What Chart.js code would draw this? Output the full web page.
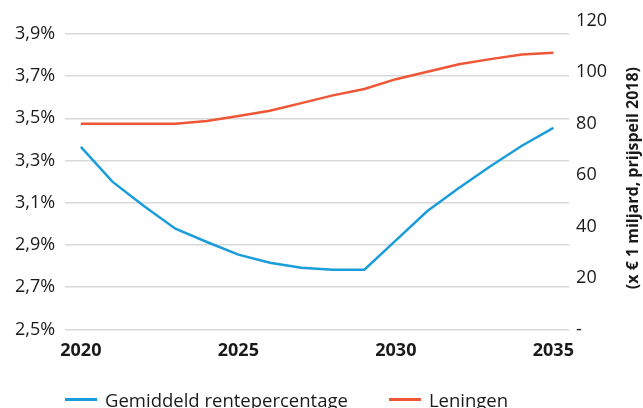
<!DOCTYPE html>
<html>
<head>
<meta charset="utf-8">
<script src="https://cdn.jsdelivr.net/npm/chart.js@4"></script>
<style>
  body { margin: 0; background: #fff; }
  #wrap { position: relative; width: 643px; height: 408px; }
  #legend {
    position: absolute; left: 65px; top: 387px;
    display: flex; align-items: center;
    font-family: "Open Sans", sans-serif; font-size: 18.5px; color: #1a1a1a;
  }
  .item { display: flex; align-items: center; margin-right: 41px; }
  .swatch { width: 32px; height: 3px; margin-right: 8px; }
</style>
</head>
<body>
<div id="wrap">
  <canvas id="renteChart"></canvas>
  <div id="legend"></div>
</div>
<script>
// chart data
const years = ['2020', '2021', '2022', '2023', '2024', '2025', '2026', '2027',
  '2028', '2029', '2030', '2031', '2032', '2033', '2034', '2035'];
const xTickLabels = ['2020', '2025', '2030', '2035'];
const rente = [3.365, 3.20, 3.085, 2.977, 2.914, 2.854, 2.816, 2.792,
  2.783, 2.783, 2.922, 3.061, 3.170, 3.273, 3.370, 3.455];
const leningen = [80, 80, 80, 80, 81, 83, 85, 88,
  91, 93.5, 97.3, 100.2, 103.1, 105.1, 106.9, 107.6];
const leftTicks = [2.5, 2.7, 2.9, 3.1, 3.3, 3.5, 3.7, 3.9];
const rightTicks = [0, 20, 40, 60, 80, 100, 120];
const seriesNames = ['Gemiddeld rentepercentage', 'Leningen'];
const seriesColors = ['#1b9ddb', '#ef5636'];
const rightAxisTitle = '(x € 1 miljard, prijspeil 2018)';

const textColor = '#1a1a1a';
const fontFamily = '"Open Sans", sans-serif';

// rotated title next to the right axis
const rightTitlePlugin = {
  id: 'rightTitle',
  afterDraw(chart) {
    const ctx = chart.ctx;
    const area = chart.chartArea;
    ctx.save();
    ctx.translate(633, (area.top + area.bottom) / 2 + 3);
    ctx.rotate(-Math.PI / 2);
    ctx.font = 'bold 16px ' + fontFamily;
    ctx.fillStyle = textColor;
    ctx.textAlign = 'center';
    ctx.textBaseline = 'middle';
    ctx.fillText(rightAxisTitle, 0, 0);
    ctx.restore();
  }
};

const ctx = document.getElementById('renteChart').getContext('2d');
new Chart(ctx, {
  type: 'line',
  data: {
    labels: years,
    datasets: [{
      label: seriesNames[0],
      data: rente,
      yAxisID: 'y',
      borderColor: seriesColors[0],
      backgroundColor: seriesColors[0],
      borderWidth: 2.5,
      pointRadius: 0,
      tension: 0
    }, {
      label: seriesNames[1],
      data: leningen,
      yAxisID: 'y2',
      borderColor: seriesColors[1],
      backgroundColor: seriesColors[1],
      borderWidth: 2.5,
      pointRadius: 0,
      tension: 0
    }]
  },
  options: {
    responsive: true,
    maintainAspectRatio: false,
    animation: false,
    layout: {
      padding: { left: 5, right: 29, top: 13, bottom: 35 }
    },
    plugins: {
      legend: { display: false },
      tooltip: { enabled: false }
    },
    scales: {
      x: {
        offset: true,
        grid: { display: false, drawTicks: false },
        border: { display: false },
        ticks: {
          autoSkip: false,
          maxRotation: 0,
          padding: 11,
          color: textColor,
          font: { family: fontFamily, size: 18, weight: 'bold' },
          callback: function (value, index) {
            const label = years[index];
            return xTickLabels.includes(label) ? label : '';
          }
        }
      },
      y: {
        position: 'left',
        min: 2.5,
        max: 3.962,
        afterBuildTicks: function (axis) {
          axis.ticks = leftTicks.map(v => ({ value: v }));
        },
        grid: { color: '#d9d9d9', lineWidth: 1.5, drawTicks: false },
        border: { display: false },
        ticks: {
          padding: 10,
          color: textColor,
          font: { family: fontFamily, size: 18 },
          callback: function (value) {
            return value.toFixed(1).replace('.', ',') + '%';
          }
        }
      },
      y2: {
        position: 'right',
        min: 0,
        max: 120,
        afterBuildTicks: function (axis) {
          axis.ticks = rightTicks.map(v => ({ value: v }));
        },
        grid: { display: false, drawTicks: false },
        border: { display: false },
        ticks: {
          padding: 7,
          color: textColor,
          font: { family: fontFamily, size: 18 },
          callback: function (value) {
            return value === 0 ? '-' : value;
          }
        }
      }
    }
  },
  plugins: [rightTitlePlugin]
});

// legend below the chart
const legend = document.getElementById('legend');
seriesNames.forEach(function (name, i) {
  const item = document.createElement('div');
  item.className = 'item';
  const swatch = document.createElement('span');
  swatch.className = 'swatch';
  swatch.style.background = seriesColors[i];
  const text = document.createElement('span');
  text.textContent = name;
  item.appendChild(swatch);
  item.appendChild(text);
  legend.appendChild(item);
});
</script>
</body>
</html>
